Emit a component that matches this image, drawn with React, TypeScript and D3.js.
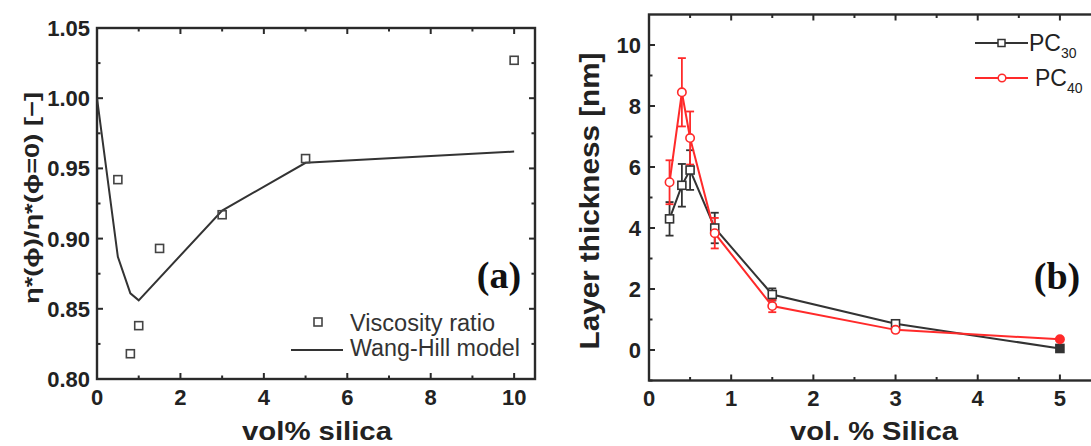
import React from "react";
import * as d3 from "d3";

// ---------- Panel (a) data ----------
const volA = [0.5, 0.8, 1.0, 1.5, 3, 5, 10];
const viscosityRatio = [0.942, 0.818, 0.838, 0.893, 0.917, 0.957, 1.027];
const modelX = [0, 0.5, 0.8, 1.0, 3, 5, 10];
const wangHill = [1.0, 0.887, 0.861, 0.856, 0.92, 0.954, 0.962];
const xTicksA = [0, 2, 4, 6, 8, 10];
const xMinorA = [1, 3, 5, 7, 9];
const yTicksA = [0.8, 0.85, 0.9, 0.95, 1.0, 1.05];
const yMinorA = [0.825, 0.875, 0.925, 0.975, 1.025];

// ---------- Panel (b) data ----------
const volB = [0.25, 0.4, 0.5, 0.8, 1.5, 3, 5];
const pc30 = [4.3, 5.4, 5.9, 4.0, 1.82, 0.86, 0.05];
const pc30Err = [0.55, 0.7, 0.65, 0.5, 0.2, 0.06, 0.05];
const pc40 = [5.5, 8.45, 6.95, 3.83, 1.44, 0.66, 0.35];
const pc40Err = [0.72, 1.12, 0.87, 0.5, 0.2, 0.06, 0.05];
const xTicksB = [0, 1, 2, 3, 4, 5];
const xMinorB = [0.5, 1.5, 2.5, 3.5, 4.5];
const yTicksB = [0, 2, 4, 6, 8, 10];
const yMinorB = [-1, 1, 3, 5, 7, 9];

const SANS = "'Liberation Sans', Arial, sans-serif";
const SERIF = "'Liberation Serif', 'Times New Roman', serif";
const AX = "#2a2a2a";

export default function App() {
  // Panel (a) scales
  const xa = d3.scaleLinear().domain([0, 10.5]).range([97, 535]);
  const ya = d3.scaleLinear().domain([0.8, 1.05]).range([379, 28]);
  // Panel (b) scales
  const xb = d3.scaleLinear().domain([0, 5.5]).range([649, 1101]);
  const yb = d3.scaleLinear().domain([-1, 11]).range([380.5, 14.5]);

  const lineA = d3
    .line<number>()
    .x((_, i) => xa(modelX[i]))
    .y((d) => ya(d));
  const lineB = d3
    .line<number>()
    .x((_, i) => xb(volB[i]))
    .y((d) => yb(d));

  const [ax0, ax1] = xa.range();
  const [ay0, ay1] = ya.range();
  const [bx0, bx1] = xb.range();
  const [by0, by1] = yb.range();

  const black = "#333333";
  const red = "#ff2a2a";

  return (
    <svg
      width={1091}
      height={446}
      style={{ position: "absolute", left: 0, top: 0, background: "#fff" }}
    >
      {/* ================= Panel (a) ================= */}
      <g>
        <rect x={ax0} y={ay1} width={ax1 - ax0} height={ay0 - ay1} fill="none" stroke={AX} strokeWidth={2.4} />
        {xTicksA.map((t) => (
          <g key={"xa" + t}>
            <line x1={xa(t)} x2={xa(t)} y1={ay0} y2={ay0 - 6} stroke={AX} strokeWidth={2} />
            <line x1={xa(t)} x2={xa(t)} y1={ay1} y2={ay1 + 6} stroke={AX} strokeWidth={2} />
            <text x={xa(t)} y={405} textAnchor="middle" fontFamily={SANS} fontWeight="bold" fontSize={22} fill="#222">
              {t}
            </text>
          </g>
        ))}
        {xMinorA.map((t) => (
          <g key={"xam" + t}>
            <line x1={xa(t)} x2={xa(t)} y1={ay0} y2={ay0 - 3.5} stroke={AX} strokeWidth={2} />
            <line x1={xa(t)} x2={xa(t)} y1={ay1} y2={ay1 + 3.5} stroke={AX} strokeWidth={2} />
          </g>
        ))}
        {yTicksA.map((t) => (
          <g key={"ya" + t}>
            <line x1={ax0} x2={ax0 + 6} y1={ya(t)} y2={ya(t)} stroke={AX} strokeWidth={2} />
            <line x1={ax1} x2={ax1 - 6} y1={ya(t)} y2={ya(t)} stroke={AX} strokeWidth={2} />
            <text x={90} y={ya(t) + 8} textAnchor="end" fontFamily={SANS} fontWeight="bold" fontSize={22} fill="#222">
              {d3.format(".2f")(t)}
            </text>
          </g>
        ))}
        {yMinorA.map((t) => (
          <g key={"yam" + t}>
            <line x1={ax0} x2={ax0 + 3.5} y1={ya(t)} y2={ya(t)} stroke={AX} strokeWidth={2} />
            <line x1={ax1} x2={ax1 - 3.5} y1={ya(t)} y2={ya(t)} stroke={AX} strokeWidth={2} />
          </g>
        ))}
        <path d={lineA(wangHill) || ""} fill="none" stroke={black} strokeWidth={2} />
        {volA.map((v, i) => (
          <rect
            key={"va" + i}
            x={xa(v) - 4}
            y={ya(viscosityRatio[i]) - 4}
            width={8}
            height={8}
            fill="none"
            stroke="#444"
            strokeWidth={1.6}
          />
        ))}
        {/* legend */}
        <rect x={314} y={318} width={8} height={8} fill="none" stroke="#444" strokeWidth={1.6} />
        <text x={350} y={331} fontFamily={SANS} fontSize={23} fill="#333" textLength={145} lengthAdjust="spacingAndGlyphs">Viscosity ratio</text>
        <line x1={291} x2={343} y1={350} y2={350} stroke={black} strokeWidth={2} />
        <text x={350} y={356} fontFamily={SANS} fontSize={23} fill="#333" textLength={170} lengthAdjust="spacingAndGlyphs">Wang-Hill model</text>
        <text x={499} y={288} textAnchor="middle" fontFamily={SERIF} fontWeight="bold" fontSize={38} fill="#111">(a)</text>
        {/* axis titles */}
        <text
          x={317}
          y={440}
          textAnchor="middle"
          fontFamily={SANS}
          fontWeight="bold"
          fontSize={26}
          fill="#222"
          textLength={150}
          lengthAdjust="spacingAndGlyphs"
        >
          vol% silica
        </text>
        <text
          transform="translate(39,198) rotate(-90)"
          textAnchor="middle"
          fontFamily={SANS}
          fontWeight="bold"
          fontSize={21}
          fill="#222"
          textLength={212}
          lengthAdjust="spacingAndGlyphs"
        >
          η*(ϕ)/η*(ϕ=0) [−]
        </text>
      </g>

      {/* ================= Panel (b) ================= */}
      <g>
        <rect x={bx0} y={by1} width={bx1 - bx0} height={by0 - by1} fill="none" stroke={AX} strokeWidth={2.4} />
        {xTicksB.map((t) => (
          <g key={"xb" + t}>
            <line x1={xb(t)} x2={xb(t)} y1={by0} y2={by0 - 6} stroke={AX} strokeWidth={2} />
            <line x1={xb(t)} x2={xb(t)} y1={by1} y2={by1 + 6} stroke={AX} strokeWidth={2} />
            <text x={xb(t)} y={406} textAnchor="middle" fontFamily={SANS} fontWeight="bold" fontSize={22} fill="#222">
              {t}
            </text>
          </g>
        ))}
        {xMinorB.map((t) => (
          <g key={"xbm" + t}>
            <line x1={xb(t)} x2={xb(t)} y1={by0} y2={by0 - 3.5} stroke={AX} strokeWidth={2} />
            <line x1={xb(t)} x2={xb(t)} y1={by1} y2={by1 + 3.5} stroke={AX} strokeWidth={2} />
          </g>
        ))}
        {yTicksB.map((t) => (
          <g key={"yb" + t}>
            <line x1={bx0} x2={bx0 + 6} y1={yb(t)} y2={yb(t)} stroke={AX} strokeWidth={2} />
            <text x={641} y={yb(t) + 8} textAnchor="end" fontFamily={SANS} fontWeight="bold" fontSize={22} fill="#222">
              {t}
            </text>
          </g>
        ))}
        {yMinorB.map((t) => (
          <line key={"ybm" + t} x1={bx0} x2={bx0 + 3.5} y1={yb(t)} y2={yb(t)} stroke={AX} strokeWidth={2} />
        ))}

        {/* PC30 */}
        <path d={lineB(pc30) || ""} fill="none" stroke={black} strokeWidth={2} />
        {volB.map((v, i) => (
          <g key={"e30" + i} stroke={black} strokeWidth={1.8}>
            <line x1={xb(v)} x2={xb(v)} y1={yb(pc30[i] - pc30Err[i])} y2={yb(pc30[i] + pc30Err[i])} />
            <line x1={xb(v) - 4} x2={xb(v) + 4} y1={yb(pc30[i] - pc30Err[i])} y2={yb(pc30[i] - pc30Err[i])} />
            <line x1={xb(v) - 4} x2={xb(v) + 4} y1={yb(pc30[i] + pc30Err[i])} y2={yb(pc30[i] + pc30Err[i])} />
          </g>
        ))}
        {/* PC40 */}
        <path d={lineB(pc40) || ""} fill="none" stroke={red} strokeWidth={2} />
        {volB.map((v, i) => (
          <g key={"e40" + i} stroke={red} strokeWidth={1.8}>
            <line x1={xb(v)} x2={xb(v)} y1={yb(pc40[i] - pc40Err[i])} y2={yb(pc40[i] + pc40Err[i])} />
            <line x1={xb(v) - 4} x2={xb(v) + 4} y1={yb(pc40[i] - pc40Err[i])} y2={yb(pc40[i] - pc40Err[i])} />
            <line x1={xb(v) - 4} x2={xb(v) + 4} y1={yb(pc40[i] + pc40Err[i])} y2={yb(pc40[i] + pc40Err[i])} />
          </g>
        ))}
        {volB.map((v, i) => (
          <rect
            key={"m30" + i}
            x={xb(v) - 4}
            y={yb(pc30[i]) - 4}
            width={8}
            height={8}
            fill={i === volB.length - 1 ? black : "#fff"}
            stroke={black}
            strokeWidth={1.6}
          />
        ))}
        {volB.map((v, i) => (
          <circle
            key={"m40" + i}
            cx={xb(v)}
            cy={yb(pc40[i])}
            r={4.2}
            fill={i === volB.length - 1 ? red : "#fff"}
            stroke={red}
            strokeWidth={1.6}
          />
        ))}

        {/* legend */}
        <line x1={975} x2={1028} y1={43} y2={43} stroke={black} strokeWidth={2} />
        <rect x={998} y={39.5} width={7} height={7} fill="#fff" stroke={black} strokeWidth={1.5} />
        <text x={1029} y={51} fontFamily={SANS} fontSize={23} fill="#222">
          PC<tspan fontSize={14} dy={7}>30</tspan>
        </text>
        <line x1={975} x2={1028} y1={78} y2={78} stroke={red} strokeWidth={2} />
        <circle cx={1002} cy={78} r={3.8} fill="#fff" stroke={red} strokeWidth={1.5} />
        <text x={1035} y={86} fontFamily={SANS} fontSize={23} fill="#222">
          PC<tspan fontSize={14} dy={7}>40</tspan>
        </text>
        <text x={1057} y={289} textAnchor="middle" fontFamily={SERIF} fontWeight="bold" fontSize={38} fill="#111">(b)</text>

        {/* axis titles */}
        <text
          x={874}
          y={440}
          textAnchor="middle"
          fontFamily={SANS}
          fontWeight="bold"
          fontSize={26}
          fill="#222"
          textLength={168}
          lengthAdjust="spacingAndGlyphs"
        >
          vol. % Silica
        </text>
        <text
          transform="translate(599,201) rotate(-90)"
          textAnchor="middle"
          fontFamily={SANS}
          fontWeight="bold"
          fontSize={27}
          fill="#222"
          textLength={297}
          lengthAdjust="spacingAndGlyphs"
        >
          Layer thickness [nm]
        </text>
      </g>
    </svg>
  );
}
